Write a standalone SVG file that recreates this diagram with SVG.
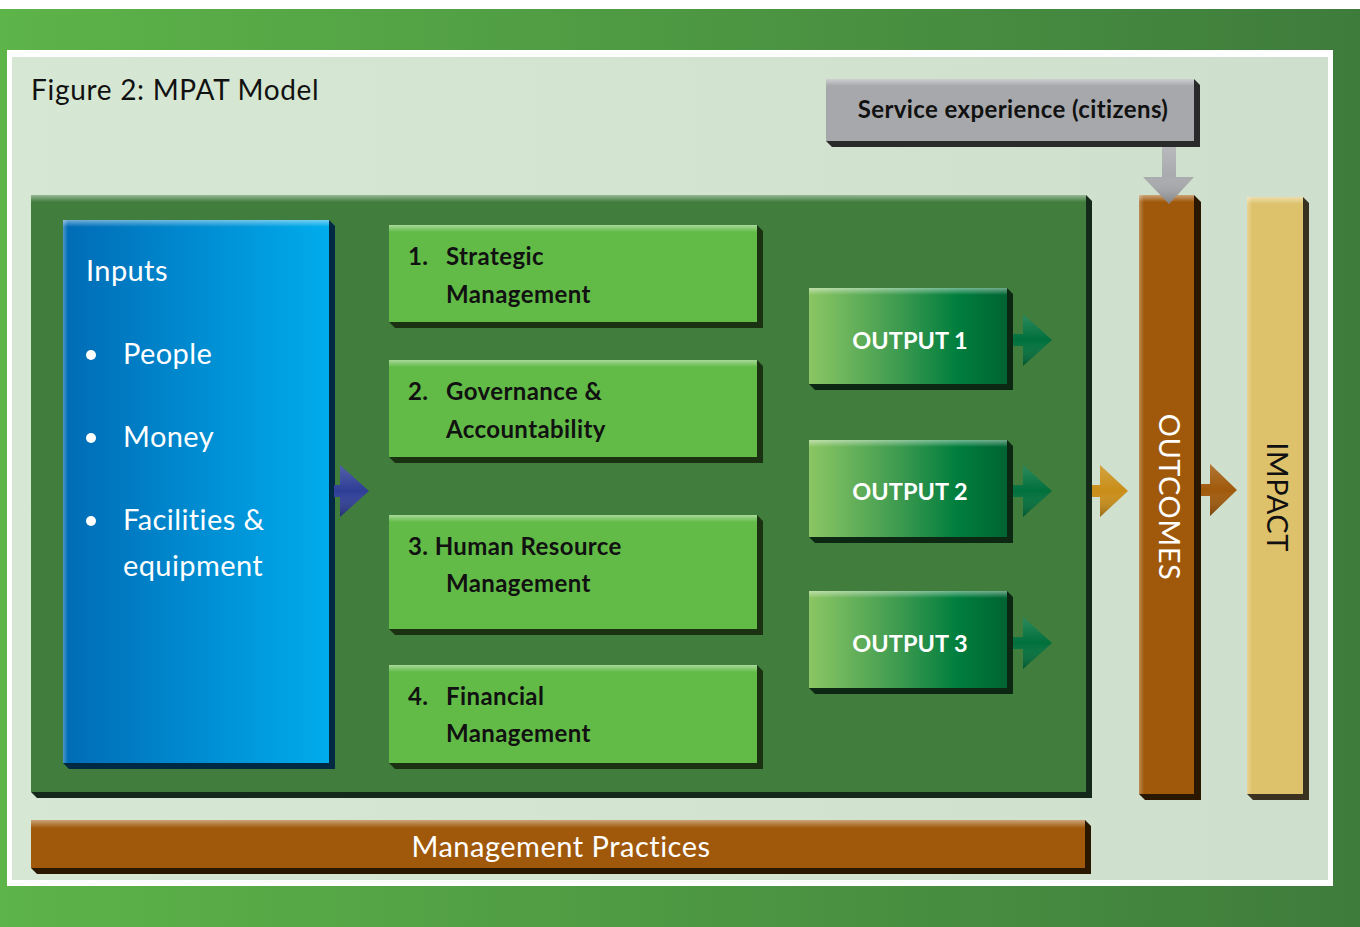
<svg xmlns="http://www.w3.org/2000/svg" width="1360" height="927" viewBox="0 0 1360 927">
  <defs>
    <linearGradient id="bgGreen" x1="0" y1="0" x2="1" y2="0">
      <stop offset="0" stop-color="#5DB449"/>
      <stop offset="1" stop-color="#3E7C3C"/>
    </linearGradient>
    <linearGradient id="panelLight" x1="0" y1="0" x2="1" y2="0">
      <stop offset="0" stop-color="#D6E8D3"/>
      <stop offset="1" stop-color="#CFDFCD"/>
    </linearGradient>
    <linearGradient id="blueFace" x1="0" y1="0" x2="1" y2="0">
      <stop offset="0" stop-color="#006BB5"/>
      <stop offset="1" stop-color="#00ACEC"/>
    </linearGradient>
    <linearGradient id="outFace" x1="0" y1="0" x2="1" y2="0">
      <stop offset="0" stop-color="#8CC664"/>
      <stop offset="0.45" stop-color="#3E9B50"/>
      <stop offset="0.75" stop-color="#007E3D"/>
      <stop offset="1" stop-color="#006432"/>
    </linearGradient>
    <!-- top bevel sheen -->
    <linearGradient id="sheenTop" x1="0" y1="0" x2="0" y2="1">
      <stop offset="0" stop-color="#FFFFFF" stop-opacity="0.45"/>
      <stop offset="1" stop-color="#FFFFFF" stop-opacity="0"/>
    </linearGradient>
    <linearGradient id="sheenLeft" x1="0" y1="0" x2="1" y2="0">
      <stop offset="0" stop-color="#FFFFFF" stop-opacity="0.3"/>
      <stop offset="1" stop-color="#FFFFFF" stop-opacity="0"/>
    </linearGradient>
    <!-- arrowhead shading -->
    <linearGradient id="arrShade" x1="0" y1="0" x2="0" y2="1">
      <stop offset="0" stop-color="#FFFFFF" stop-opacity="0.18"/>
      <stop offset="0.5" stop-color="#FFFFFF" stop-opacity="0"/>
      <stop offset="1" stop-color="#000000" stop-opacity="0.25"/>
    </linearGradient>
  </defs>
  <style>
    .title { font-family: Lato, "Liberation Sans", sans-serif; font-size: 28px; letter-spacing: 0.7px; fill: #111; }
    .inp { font-family: Lato, "Liberation Sans", sans-serif; font-size: 29px; letter-spacing: 0.4px; fill: #FFFFFF; }
    .area { font-family: Lato, "Liberation Sans", sans-serif; font-weight: bold; font-size: 24px; letter-spacing: 0.4px; fill: #111; }
    .out { font-family: Lato, "Liberation Sans", sans-serif; font-weight: bold; font-size: 23.5px; fill: #FFFFFF; }
    .svc { font-family: Lato, "Liberation Sans", sans-serif; font-weight: bold; font-size: 24px; letter-spacing: 0.4px; fill: #111; }
    .bar { font-family: Lato, "Liberation Sans", sans-serif; font-size: 29px; letter-spacing: 0.5px; }
    .sheen { fill: url(#sheenTop); }
    .sheenL { fill: url(#sheenLeft); }
  </style>

  <!-- page background and frame -->
  <rect x="0" y="0" width="1360" height="927" fill="#FFFFFF"/>
  <rect x="0" y="9" width="1360" height="918" fill="url(#bgGreen)"/>
  <rect x="7" y="50" width="1326" height="836" fill="#FFFFFF"/>
  <rect x="12" y="57" width="1316" height="823" fill="url(#panelLight)"/>

  <text class="title" x="31" y="100">Figure 2: MPAT Model</text>

  <!-- main green panel -->
  <g id="panel">
    <polygon points="1086,195 1092,201 1092,798 37,798 31,792" fill="#14291A"/>
    <rect x="31" y="195" width="1055" height="597" fill="#417E3E"/>
    <rect x="31" y="195" width="1055" height="7" class="sheen"/>
  </g>

  <!-- service experience box -->
  <g id="service">
    <polygon points="1194,79 1200,85 1200,147 832,147 826,141" fill="#2A2A2B"/>
    <rect x="826" y="79" width="368" height="62" fill="#A7A8AB"/>
    <rect x="826" y="79" width="368" height="7" class="sheen"/>
    <text class="svc" x="1013" y="118" text-anchor="middle">Service experience (citizens)</text>
  </g>

  <!-- inputs -->
  <g id="inputs">
    <polygon points="329,220 335,226 335,769 69,769 63,763" fill="#002A44"/>
    <rect x="63" y="220" width="266" height="543" fill="url(#blueFace)"/>
    <rect x="63" y="220" width="266" height="7" class="sheen"/>
    <rect x="63" y="220" width="5" height="543" class="sheenL"/>
    <text class="inp" x="86" y="281">Inputs</text>
    <circle cx="91" cy="355" r="5" fill="#FFFFFF"/>
    <text class="inp" x="123" y="364">People</text>
    <circle cx="91" cy="438" r="5" fill="#FFFFFF"/>
    <text class="inp" x="123" y="447">Money</text>
    <circle cx="91" cy="521" r="5" fill="#FFFFFF"/>
    <text class="inp" x="123" y="530">Facilities &amp;</text>
    <text class="inp" x="123" y="576">equipment</text>
  </g>

  <!-- management areas -->
  <g id="area1">
    <polygon points="757,225 763,231 763,328 395,328 389,322" fill="#1B3212"/>
    <rect x="389" y="225" width="368" height="97" fill="#62BB47"/>
    <rect x="389" y="225" width="368" height="7" class="sheen"/>
    <text class="area" x="408" y="265">1.</text>
    <text class="area" x="446" y="265">Strategic</text>
    <text class="area" x="446" y="303">Management</text>
  </g>
  <g id="area2">
    <polygon points="757,360 763,366 763,463 395,463 389,457" fill="#1B3212"/>
    <rect x="389" y="360" width="368" height="97" fill="#62BB47"/>
    <rect x="389" y="360" width="368" height="7" class="sheen"/>
    <text class="area" x="408" y="400">2.</text>
    <text class="area" x="446" y="400">Governance &amp;</text>
    <text class="area" x="446" y="438">Accountability</text>
  </g>
  <g id="area3">
    <polygon points="757,515 763,521 763,635 395,635 389,629" fill="#1B3212"/>
    <rect x="389" y="515" width="368" height="114" fill="#62BB47"/>
    <rect x="389" y="515" width="368" height="7" class="sheen"/>
    <text class="area" x="408" y="555">3. Human Resource</text>
    <text class="area" x="446" y="592">Management</text>
  </g>
  <g id="area4">
    <polygon points="757,665 763,671 763,769 395,769 389,763" fill="#1B3212"/>
    <rect x="389" y="665" width="368" height="98" fill="#62BB47"/>
    <rect x="389" y="665" width="368" height="7" class="sheen"/>
    <text class="area" x="408" y="705">4.</text>
    <text class="area" x="446" y="705">Financial</text>
    <text class="area" x="446" y="742">Management</text>
  </g>

  <!-- outputs -->
  <g id="output1">
    <polygon points="1007,288 1013,294 1013,390 815,390 809,384" fill="#0C2712"/>
    <rect x="809" y="288" width="198" height="96" fill="url(#outFace)"/>
    <rect x="809" y="288" width="198" height="7" class="sheen"/>
    <text class="out" x="910" y="349" text-anchor="middle">OUTPUT 1</text>
  </g>
  <g id="output2">
    <polygon points="1007,440 1013,446 1013,543 815,543 809,537" fill="#0C2712"/>
    <rect x="809" y="440" width="198" height="97" fill="url(#outFace)"/>
    <rect x="809" y="440" width="198" height="7" class="sheen"/>
    <text class="out" x="910" y="500" text-anchor="middle">OUTPUT 2</text>
  </g>
  <g id="output3">
    <polygon points="1007,591 1013,597 1013,694 815,694 809,688" fill="#0C2712"/>
    <rect x="809" y="591" width="198" height="97" fill="url(#outFace)"/>
    <rect x="809" y="591" width="198" height="7" class="sheen"/>
    <text class="out" x="910" y="652" text-anchor="middle">OUTPUT 3</text>
  </g>

  <!-- outcomes column -->
  <g id="outcomes">
    <polygon points="1194,195 1201,202 1201,800 1145,800 1139,794" fill="#2A1700"/>
    <rect x="1139" y="195" width="55" height="599" fill="#A0590B"/>
    <rect x="1139" y="195" width="55" height="7" class="sheen"/>
    <rect x="1139" y="195" width="5" height="599" class="sheenL"/>
    <text class="bar" x="1169" y="507" text-anchor="middle" fill="#FFFFFF" transform="rotate(90 1169 497)">OUTCOMES</text>
  </g>

  <!-- impact column -->
  <g id="impact">
    <polygon points="1303,197 1309,203 1309,800 1253,800 1247,794" fill="#3B3120"/>
    <rect x="1247" y="197" width="56" height="597" fill="#DEC26B"/>
    <rect x="1247" y="197" width="56" height="7" class="sheen"/>
    <rect x="1247" y="197" width="5" height="597" class="sheenL"/>
    <text class="bar" x="1277" y="507" text-anchor="middle" fill="#111" letter-spacing="0" transform="rotate(90 1277 497)">IMPACT</text>
  </g>

  <!-- management practices bar -->
  <g id="practices">
    <polygon points="1085,820 1091,826 1091,874 37,874 31,868" fill="#2A1700"/>
    <rect x="31" y="820" width="1054" height="48" fill="#A0590B"/>
    <rect x="31" y="820" width="1054" height="8" class="sheen"/>
    <text class="bar" x="561" y="857" text-anchor="middle" fill="#FFFFFF">Management Practices</text>
  </g>

  <!-- connectors -->
  <g id="connectors">
    <path d="M1162,147 H1176 V177 H1194 L1169,204 L1143,177 H1162 Z" fill="#A9AAAD"/>
    <path d="M1162,147 H1176 V177 H1194 L1169,204 L1143,177 H1162 Z" fill="url(#arrShade)"/>

    <path d="M334,485 H340 V465 L369,491 L340,517 V497 H334 Z" fill="#2E3E96"/>
    <path d="M334,485 H340 V465 L369,491 L340,517 V497 H334 Z" fill="url(#arrShade)"/>

    <path d="M1013,334 H1023 V314 L1052,340 L1023,366 V346 H1013 Z" fill="#00703B"/>
    <path d="M1013,334 H1023 V314 L1052,340 L1023,366 V346 H1013 Z" fill="url(#arrShade)"/>
    <path d="M1013,485 H1023 V465 L1052,491 L1023,517 V497 H1013 Z" fill="#00703B"/>
    <path d="M1013,485 H1023 V465 L1052,491 L1023,517 V497 H1013 Z" fill="url(#arrShade)"/>
    <path d="M1013,637 H1023 V617 L1052,643 L1023,669 V649 H1013 Z" fill="#00703B"/>
    <path d="M1013,637 H1023 V617 L1052,643 L1023,669 V649 H1013 Z" fill="url(#arrShade)"/>

    <path d="M1092,485 H1100 V465 L1128,491 L1100,517 V497 H1092 Z" fill="#C98E18"/>
    <path d="M1092,485 H1100 V465 L1128,491 L1100,517 V497 H1092 Z" fill="url(#arrShade)"/>

    <path d="M1201,484 H1210 V464 L1237,490 L1210,516 V496 H1201 Z" fill="#A0590B"/>
    <path d="M1201,484 H1210 V464 L1237,490 L1210,516 V496 H1201 Z" fill="url(#arrShade)"/>
  </g>
</svg>
